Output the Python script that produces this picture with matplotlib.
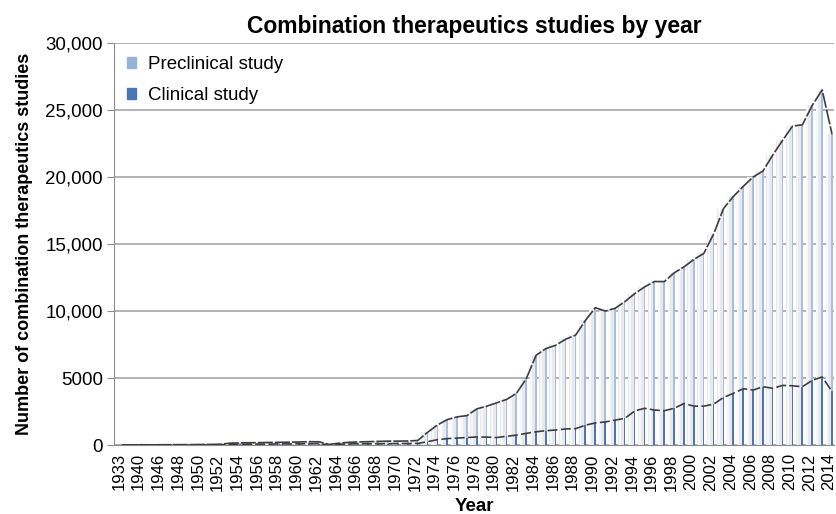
import numpy as np
import matplotlib
matplotlib.use("Agg")
import matplotlib.pyplot as plt
from matplotlib.patches import Patch

years = ["1933", "1936", "1940", "1944"] + [str(y) for y in range(1946, 2015)]

preclinical = [15, 10, 20, 15, 20, 25, 30, 30, 40, 45,
               60, 140, 160, 170, 180, 190, 200, 210, 230, 250,
               240, 40, 140, 200, 230, 250, 270, 290, 290, 300,
               340, 950, 1500, 1900, 2100, 2200, 2700, 2900, 3150, 3400,
               3850, 4950, 6700, 7200, 7450, 7900, 8200, 9300, 10250, 10000,
               10200, 10700, 11300, 11800, 12200, 12200, 12850, 13300, 13850, 14300,
               15750, 17650, 18550, 19300, 20000, 20450, 21650, 22750, 23800, 23900,
               25350, 26500, 23200]

clinical = [5, 5, 5, 5, 5, 5, 8, 8, 10, 10,
            15, 50, 60, 60, 70, 70, 80, 80, 90, 100,
            100, 15, 60, 80, 90, 90, 100, 100, 110, 110,
            120, 250, 400, 480, 520, 560, 600, 590, 560, 650,
            740, 870, 990, 1070, 1120, 1200, 1220, 1480, 1650, 1720,
            1860, 1990, 2550, 2740, 2610, 2560, 2740, 3100, 2900, 2900,
            3050, 3550, 3860, 4200, 4100, 4350, 4230, 4450, 4420, 4350,
            4830, 5080, 4000]

yticks = [0, 5000, 10000, 15000, 20000, 25000, 30000]
ytick_labels = ["0", "5000", "10,000", "15,000", "20,000", "25,000", "30,000"]

plt.rcParams["font.family"] = ["Liberation Sans", "DejaVu Sans"]

fig = plt.figure(figsize=(8.37, 5.14), dpi=100)
ax = fig.add_axes([0.1362, 0.1342, 0.8602, 0.7821])

x = np.arange(len(years))
pre_light = "#a7bfe2"
clin_dark = "#4a76b3"

# grey "cylinder" bodies, then a coloured stripe on each one
ax.bar(x, preclinical, width=0.72, color="#e9e9ed", zorder=2)
ax.bar(x - 0.2, preclinical, width=0.2, color="#f7f7f9", zorder=2)
ax.bar(x + 0.28, preclinical, width=0.16, color=pre_light, zorder=3)
ax.bar(x + 0.28, clinical, width=0.16, color=clin_dark, zorder=4)

ax.plot(x + 0.3, preclinical, color="#3d3d3d", lw=1.2, ls=(0, (9, 1.2)), zorder=5)
ax.plot(x + 0.3, clinical, color="#3d3d3d", lw=1.2, ls=(0, (6, 2)), zorder=5)

ax.set_xlim(-0.5, len(years) - 0.5)
ax.set_ylim(0, 30000)
ax.set_yticks(yticks)
ax.set_yticklabels(ytick_labels, fontsize=13.5)
ax.set_xticks(x[::2])
ax.set_xticklabels(years[::2], rotation=90, fontsize=12)
ax.tick_params(axis="x", length=0, pad=6)
ax.tick_params(axis="y", length=5, color="#8c8c8c", pad=3)

ax.grid(axis="y", color="#a6a6a6", lw=1.2, zorder=0)
ax.set_axisbelow(True)
for side in ["top", "right"]:
    ax.spines[side].set_visible(False)
ax.spines["left"].set_color("#8c8c8c")
ax.spines["bottom"].set_color("#8c8c8c")

ax.set_title("Combination therapeutics studies by year", fontsize=16.5,
             fontweight="bold", pad=7)
ax.set_ylabel("Number of combination therapeutics studies", fontsize=13,
              fontweight="bold", labelpad=9)
ax.set_xlabel("Year", fontsize=13.5, fontweight="bold", labelpad=5)

handles = [Patch(color="#95b3d7", label="Preclinical study"),
           Patch(color=clin_dark, label="Clinical study")]
ax.legend(handles=handles, loc="upper left", frameon=False, fontsize=13.5,
          handlelength=0.5, handleheight=0.5, handletextpad=0.6,
          labelspacing=0.75, borderaxespad=0.3, bbox_to_anchor=(0.0, 1.0))

fig.savefig("out.png", dpi=100)
